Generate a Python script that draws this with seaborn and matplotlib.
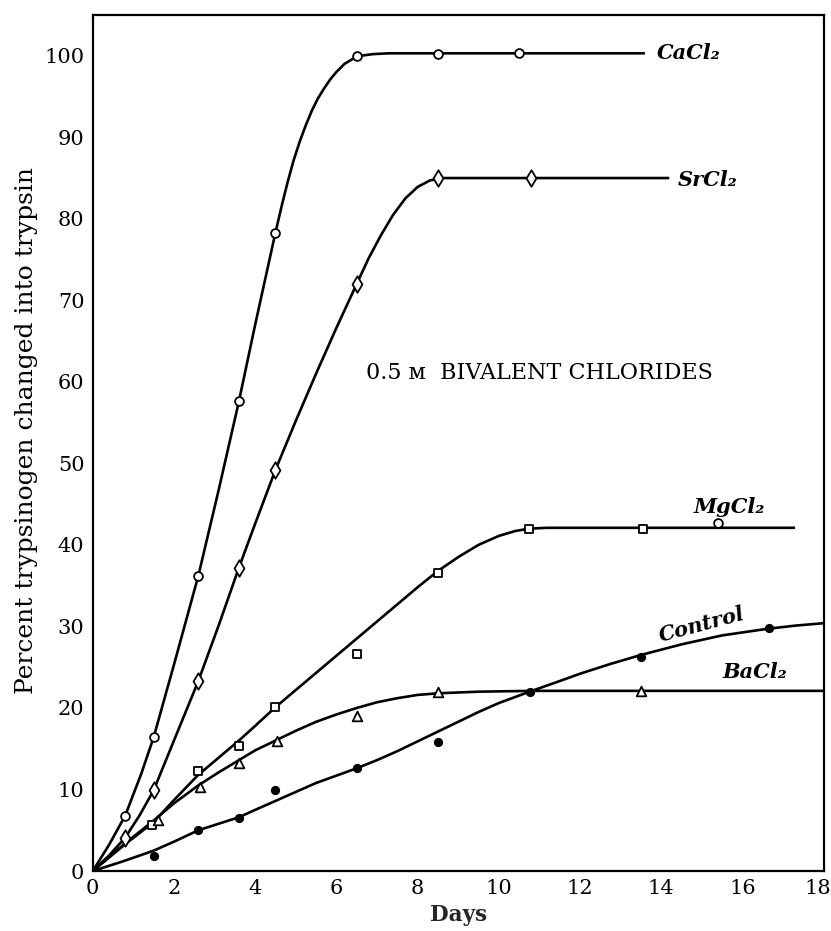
import matplotlib
matplotlib.use("Agg")
import matplotlib.pyplot as plt
import matplotlib.transforms as mtransforms
import seaborn as sns
import pandas as pd

# ---- data ----
days_ticks = [0, 2, 4, 6, 8, 10, 12, 14, 16, 18]
pct_ticks = [0, 10, 20, 30, 40, 50, 60, 70, 80, 90, 100]

# measured points
ca_x = [0.8, 1.5, 2.6, 3.6, 4.5, 6.5, 8.5, 10.5]
ca_y = [6.8, 16.4, 36.2, 57.6, 78.3, 100.0, 100.2, 100.3]
sr_x = [0.8, 1.5, 2.6, 3.6, 4.5, 6.5, 8.5, 10.8]
sr_y = [4.1, 9.9, 23.3, 37.2, 49.2, 72.0, 85.0, 85.0]
mg_x = [1.45, 2.6, 3.6, 4.5, 6.5, 8.5, 10.75, 13.55]
mg_y = [5.7, 12.3, 15.3, 20.1, 26.6, 36.6, 42.0, 42.0]
mg_extra_x = [15.4]
mg_extra_y = [42.7]
ba_x = [1.6, 2.65, 3.6, 4.55, 6.5, 8.5, 13.5]
ba_y = [6.2, 10.3, 13.3, 15.9, 19.0, 22.0, 22.1]
ctl_x = [1.5, 2.6, 3.6, 4.5, 6.5, 8.5, 10.76, 13.5, 16.65]
ctl_y = [1.85, 5.05, 6.45, 9.9, 12.6, 15.8, 21.9, 26.3, 29.8]

# fitted curves
ca_cx = [0, 0.4, 0.8, 1.2, 1.5, 2.0, 2.6, 3.1, 3.6, 4.0, 4.5, 4.65, 4.8, 4.95, 5.1, 5.25, 5.4, 5.55, 5.7, 5.85, 6.0, 6.2, 6.4, 6.6, 6.9, 7.3, 8.5, 10.5, 13.6]
ca_cy = [0, 3.2, 6.8, 12.0, 16.4, 25.3, 36.2, 46.7, 57.6, 67.0, 78.3, 81.5, 84.5, 87.2, 89.5, 91.5, 93.3, 94.8, 96.0, 97.1, 98.0, 99.0, 99.6, 100.0, 100.2, 100.3, 100.3, 100.3, 100.3]
sr_cx = [0, 0.4, 0.8, 1.15, 1.5, 2.0, 2.6, 3.1, 3.6, 4.0, 4.5, 5.0, 5.5, 6.0, 6.5, 6.8, 7.1, 7.4, 7.7, 8.0, 8.3, 8.6, 9.0, 10.8, 14.2]
sr_cy = [0, 1.9, 4.1, 6.8, 9.9, 16.0, 23.3, 30.1, 37.2, 42.6, 49.2, 55.2, 61.0, 66.6, 72.0, 75.2, 78.0, 80.5, 82.5, 83.9, 84.7, 85.0, 85.0, 85.0, 85.0]
mg_cx = [0, 0.8, 1.5, 2.0, 2.6, 3.1, 3.6, 4.0, 4.5, 5.0, 5.5, 6.0, 6.5, 7.0, 7.5, 8.0, 8.5, 9.0, 9.5, 10.0, 10.4, 10.75, 11.2, 17.3]
mg_cy = [0, 3.3, 6.0, 8.7, 11.8, 13.9, 16.0, 17.8, 20.1, 22.2, 24.3, 26.4, 28.5, 30.6, 32.7, 34.8, 36.8, 38.5, 40.0, 41.1, 41.7, 42.0, 42.1, 42.1]
ba_cx = [0, 0.8, 1.5, 2.0, 2.6, 3.1, 3.6, 4.0, 4.5, 5.0, 5.5, 6.0, 6.5, 7.0, 7.5, 8.0, 8.5, 9.5, 10.8, 18]
ba_cy = [0, 3.4, 6.2, 8.3, 10.5, 12.1, 13.6, 14.8, 16.0, 17.2, 18.3, 19.2, 20.0, 20.7, 21.2, 21.6, 21.8, 22.0, 22.1, 22.1]
ctl_cx = [0, 0.75, 1.5, 2.0, 2.6, 3.1, 3.6, 4.0, 4.5, 5.0, 5.5, 6.0, 6.5, 7.0, 7.5, 8.0, 8.5, 9.0, 9.5, 10.0, 10.76, 11.5, 12.0, 12.75, 13.5, 14.5, 15.5, 16.6, 17.3, 18]
ctl_cy = [0, 1.2, 2.5, 3.6, 5.0, 5.8, 6.6, 7.5, 8.6, 9.7, 10.8, 11.7, 12.6, 13.6, 14.7, 15.9, 17.1, 18.3, 19.5, 20.6, 22.0, 23.3, 24.2, 25.4, 26.5, 27.8, 28.9, 29.7, 30.1, 30.4]

sns.set_theme(style="white")
plt.rcParams["font.family"] = ["DejaVu Serif", "DejaVu Sans"]

fig = plt.figure(figsize=(8.31, 9.31), dpi=100)
ax = fig.add_axes([0.1116, 0.0644, 0.8794, 0.9195])

LW = 1.9
for cx, cy in [(ca_cx, ca_cy), (sr_cx, sr_cy), (mg_cx, mg_cy), (ba_cx, ba_cy), (ctl_cx, ctl_cy)]:
    d = pd.DataFrame({"x": cx, "y": cy})
    sns.lineplot(data=d, x="x", y="y", ax=ax, color="black", lw=LW, sort=False,
                 estimator=None, solid_joinstyle="round", solid_capstyle="butt", zorder=2)

def pts(x, y, marker, s, face="white", lw=1.3):
    d = pd.DataFrame({"x": x, "y": y})
    sns.scatterplot(data=d, x="x", y="y", ax=ax, marker=marker, s=s, facecolor=face,
                    edgecolor="black", linewidth=lw, zorder=3, legend=False)

pts(ca_x, ca_y, "o", 40)
pts(sr_x, sr_y, "d", 70)
pts(mg_x, mg_y, "s", 36)
pts(mg_extra_x, mg_extra_y, "o", 40)
pts(ba_x, ba_y, "^", 48)
pts(ctl_x, ctl_y, "o", 34, face="black", lw=0.8)

ax.set_xlim(0, 18)
ax.set_ylim(0, 105.0)
ax.set_xticks(days_ticks)
ax.set_yticks(pct_ticks)
ax.set_xticklabels([str(v) for v in days_ticks], fontsize=15)
ax.set_yticklabels([str(v) for v in pct_ticks], fontsize=15)
ax.tick_params(axis="both", direction="in", length=14, width=1.4, colors="black", pad=6)
for sp in ax.spines.values():
    sp.set_visible(True)
    sp.set_color("black")
    sp.set_linewidth(1.6)

# keep the last x tick label inside the figure, as in the reference
last = ax.get_xticklabels()[-1]
last.set_transform(last.get_transform() + mtransforms.ScaledTranslation(-6 / 100, 0, fig.dpi_scale_trans))

ax.set_xlabel("Days", fontsize=15.5, fontweight="bold", labelpad=4)
ax.set_ylabel("")
fig.text(27 / 831, 1 - 430 / 931, "Percent trypsinogen changed into trypsin",
         rotation=90, ha="center", va="center", fontsize=18, color="black")

lab = dict(fontsize=15, fontstyle="italic", fontweight="bold", color="black",
           family=["DejaVu Serif", "DejaVu Sans"])
ax.text(13.9, 100.3, "CaCl\u2082", ha="left", va="center", **lab)
ax.text(14.4, 84.8, "SrCl\u2082", ha="left", va="center", **lab)
ax.text(14.8, 44.6, "MgCl\u2082", ha="left", va="center", **lab)
ax.text(15.0, 30.2, "Control", ha="center", va="center", rotation=15, **lab)
ax.text(16.3, 24.4, "BaCl\u2082", ha="center", va="center", **lab)
ax.text(11.0, 61.1, "0.5 \u1d0d  BIVALENT CHLORIDES", ha="center", va="center",
        fontsize=16, color="black", family=["DejaVu Serif", "DejaVu Sans"])

fig.savefig("out.png", dpi=100)
